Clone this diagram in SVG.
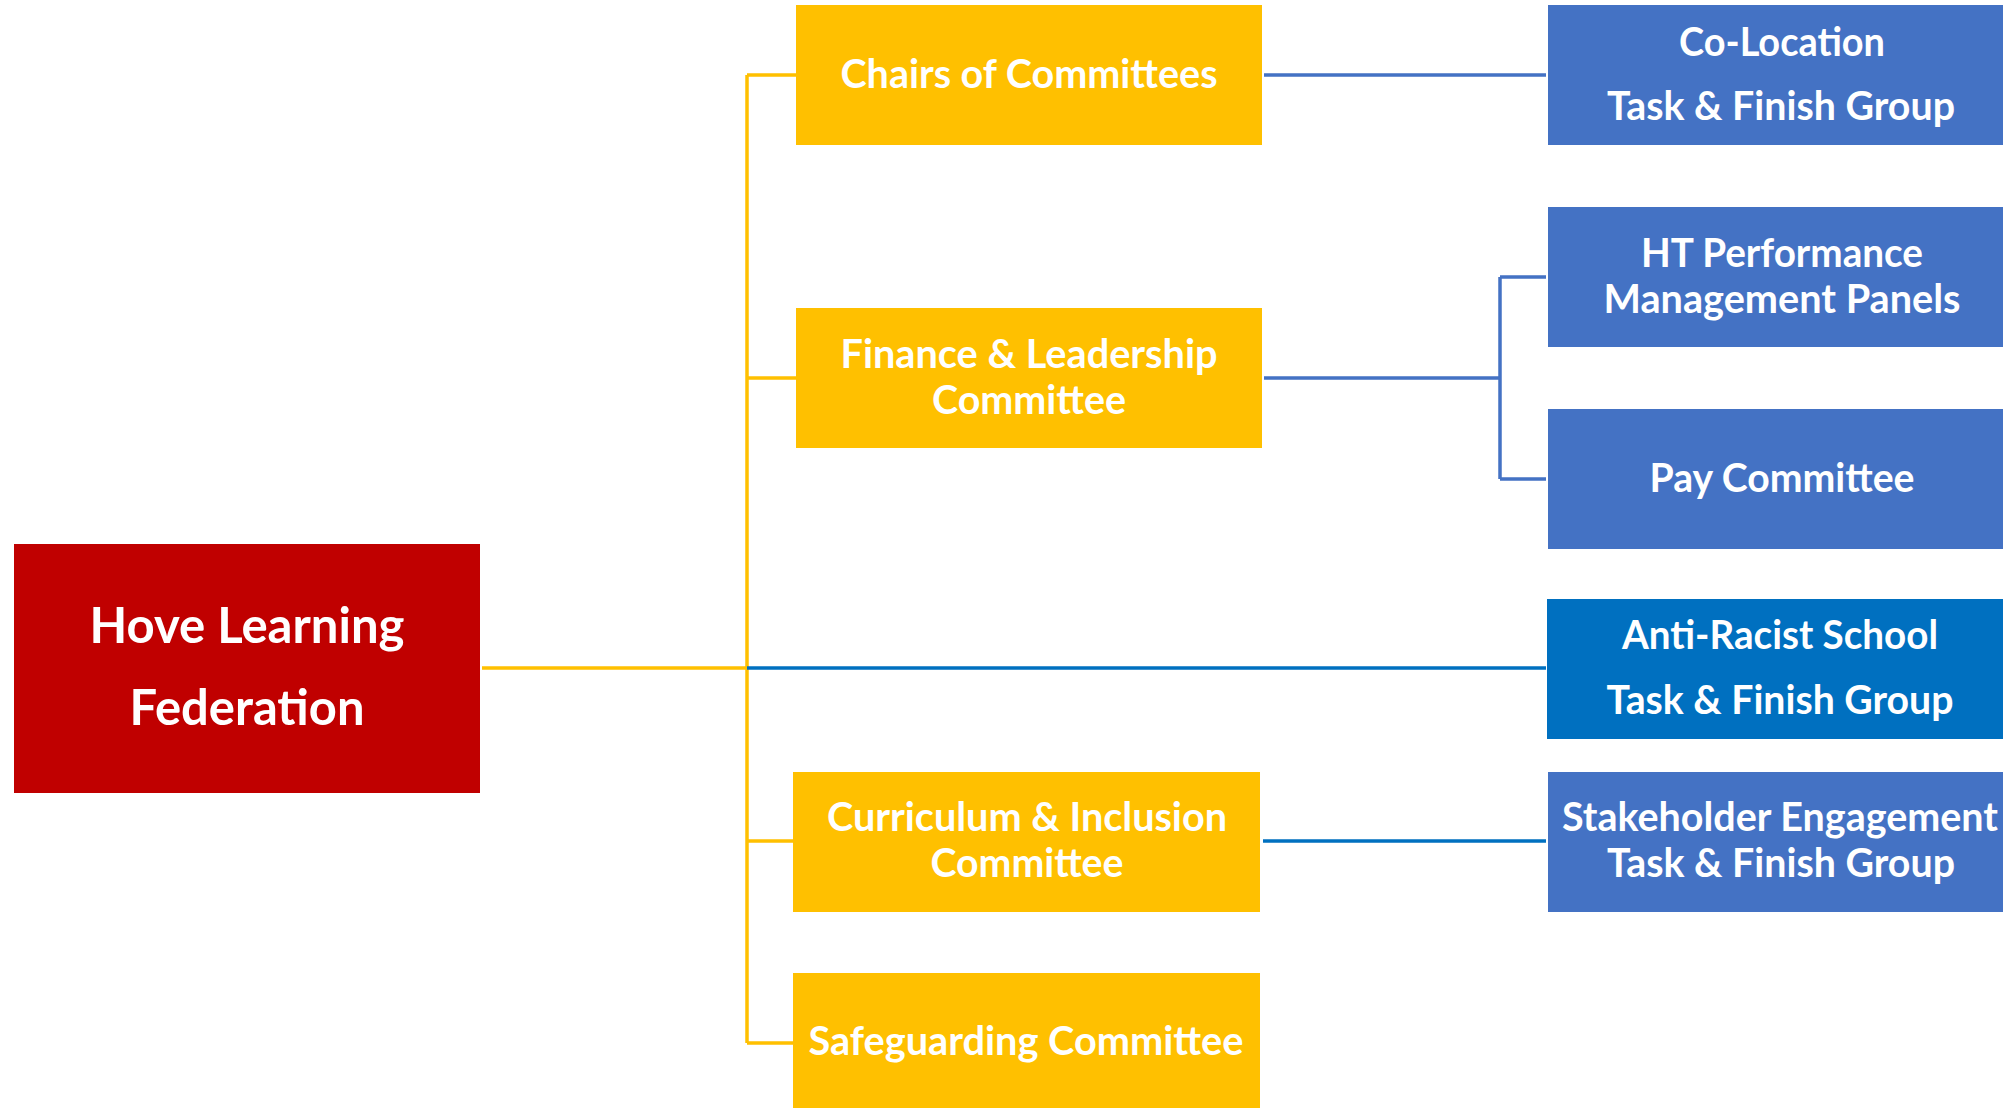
<svg xmlns="http://www.w3.org/2000/svg" width="2003" height="1108" viewBox="0 0 2003 1108">
<style>
.y{fill:#FFC000}
.b{fill:#4472C4}
.d{fill:#0070C0}
.r{fill:#C00000}
text{font-family:Lato,"Open Sans","Liberation Sans",sans-serif;font-weight:bold;fill:#FFFFFF;text-anchor:middle;font-size:40px}
.big{font-size:49px}
.cy{stroke:#FFC000;stroke-width:3.5;fill:none}
.cb{stroke:#4472C4;stroke-width:3.5;fill:none}
.cd{stroke:#0070C0;stroke-width:3.5;fill:none}
</style>
<rect width="2003" height="1108" fill="#FFFFFF"/>
<g id="connectors">
<path class="cy" d="M482 668H747M747 75V1043M747 75H796M747 378H796M747 841H793M747 1043H793"/>
<path class="cd" d="M747 668H1546M1263 841H1546"/>
<path class="cb" d="M1264 75H1546M1264 378H1500M1500 277V479M1500 277H1546M1500 479H1546"/>
</g>
<g id="hove">
<rect class="r" x="14" y="544" width="466" height="249"/>
<text class="big" x="247" y="643" textLength="315" lengthAdjust="spacingAndGlyphs">Hove Learning</text>
<text class="big" x="247" y="725" textLength="235" lengthAdjust="spacingAndGlyphs">Federation</text>
</g>
<g id="chairs">
<rect class="y" x="796" y="5" width="466" height="140"/>
<text x="1029" y="88" textLength="377" lengthAdjust="spacingAndGlyphs">Chairs of Committees</text>
</g>
<g id="finance">
<rect class="y" x="796" y="308" width="466" height="140"/>
<text x="1029" y="368" textLength="377" lengthAdjust="spacingAndGlyphs">Finance &amp; Leadership</text>
<text x="1029" y="414" textLength="194" lengthAdjust="spacingAndGlyphs">Committee</text>
</g>
<g id="curriculum">
<rect class="y" x="793" y="772" width="467" height="140"/>
<text x="1027" y="831" textLength="400" lengthAdjust="spacingAndGlyphs">Curriculum &amp; Inclusion</text>
<text x="1027" y="877" textLength="193" lengthAdjust="spacingAndGlyphs">Committee</text>
</g>
<g id="safeguarding">
<rect class="y" x="793" y="973" width="467" height="140"/>
<text x="1026" y="1055" textLength="435" lengthAdjust="spacingAndGlyphs">Safeguarding Committee</text>
</g>
<g id="colocation">
<rect class="b" x="1548" y="5" width="468" height="140"/>
<text x="1782" y="56" textLength="206" lengthAdjust="spacingAndGlyphs">Co-Location</text>
<text x="1781" y="120" textLength="348" lengthAdjust="spacingAndGlyphs">Task &amp; Finish Group</text>
</g>
<g id="htperformance">
<rect class="b" x="1548" y="207" width="468" height="140"/>
<text x="1782" y="267" textLength="282" lengthAdjust="spacingAndGlyphs">HT Performance</text>
<text x="1782" y="313" textLength="357" lengthAdjust="spacingAndGlyphs">Management Panels</text>
</g>
<g id="pay">
<rect class="b" x="1548" y="409" width="468" height="140"/>
<text x="1782" y="492" textLength="265" lengthAdjust="spacingAndGlyphs">Pay Committee</text>
</g>
<g id="antiracist">
<rect class="d" x="1547" y="599" width="468" height="140"/>
<text x="1780" y="649" textLength="316" lengthAdjust="spacingAndGlyphs">Anti-Racist School</text>
<text x="1780" y="714" textLength="347" lengthAdjust="spacingAndGlyphs">Task &amp; Finish Group</text>
</g>
<g id="stakeholder">
<rect class="b" x="1548" y="772" width="468" height="140"/>
<text x="1780" y="831" textLength="436" lengthAdjust="spacingAndGlyphs">Stakeholder Engagement</text>
<text x="1781" y="877" textLength="348" lengthAdjust="spacingAndGlyphs">Task &amp; Finish Group</text>
</g>
</svg>
